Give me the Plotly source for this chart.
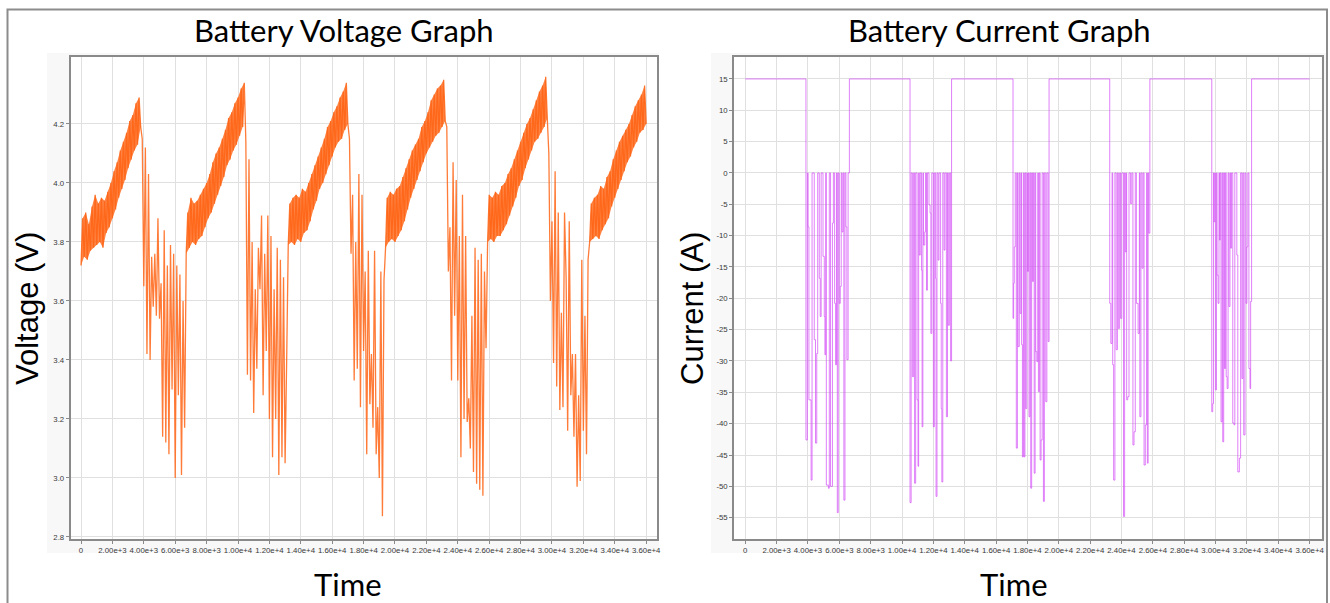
import plotly.graph_objects as go

# ---------------- Voltage data (one reading every SAMPLE_STEP seconds) ----------------
SAMPLE_STEP = 100

voltage_charge_1 = [3.72, 3.88, 3.75, 3.90, 3.74, 3.86, 3.77, 3.92, 3.78, 3.96, 3.79, 3.93, 3.80,
                    3.95, 3.78, 3.94, 3.83, 3.97, 3.85, 4.00, 3.88, 4.04, 3.91, 4.07, 3.95, 4.11,
                    3.98, 4.14, 4.01, 4.17, 4.05, 4.21, 4.08, 4.23, 4.11, 4.27, 4.13, 4.29, 4.19]
voltage_discharge_1 = [4.15, 3.65, 4.12, 3.42, 4.03, 3.40, 3.75, 3.58, 3.76, 3.55, 3.88, 3.54, 3.66,
                       3.14, 3.84, 3.12, 3.72, 3.08, 3.79, 3.30, 3.76, 3.00, 3.72, 3.28, 3.69, 3.01,
                       3.60, 3.17]
voltage_charge_2 = [3.76, 3.90, 3.78, 3.95, 3.80, 3.93, 3.79, 3.94, 3.81, 3.96, 3.82, 3.98, 3.85,
                    4.00, 3.88, 4.03, 3.90, 4.07, 3.93, 4.10, 3.96, 4.12, 3.99, 4.15, 4.02, 4.18,
                    4.06, 4.22, 4.08, 4.24, 4.11, 4.27, 4.13, 4.29, 4.16, 4.32, 4.19, 4.34]
voltage_discharge_2 = [4.14, 3.35, 4.08, 3.33, 3.80, 3.22, 3.64, 3.37, 3.78, 3.64, 3.89, 3.28, 3.76,
                       3.43, 3.89, 3.20, 3.82, 3.07, 3.64, 3.20, 3.78, 3.01, 3.74, 3.07, 3.68, 3.05,
                       3.40]
voltage_charge_3 = [3.79, 3.93, 3.80, 3.95, 3.79, 3.96, 3.81, 3.95, 3.80, 3.98, 3.83, 3.97, 3.84,
                    4.00, 3.87, 4.03, 3.91, 4.06, 3.94, 4.09, 3.98, 4.12, 4.00, 4.15, 4.03, 4.19,
                    4.06, 4.21, 4.09, 4.24, 4.12, 4.26, 4.14, 4.29, 4.15, 4.31, 4.18, 4.34, 4.20]
voltage_discharge_3 = [4.15, 3.76, 3.96, 3.33, 3.80, 3.37, 4.03, 3.24, 3.96, 3.43, 3.70, 3.08, 3.77,
                       3.25, 3.42, 3.17, 3.77, 3.08, 3.24, 3.00, 3.70, 2.87, 3.67]
voltage_charge_4 = [3.78, 3.95, 3.80, 3.97, 3.81, 3.96, 3.80, 3.98, 3.82, 3.99, 3.84, 4.02, 3.87,
                    4.05, 3.91, 4.08, 3.95, 4.11, 3.98, 4.13, 4.01, 4.15, 4.04, 4.19, 4.07, 4.21,
                    4.10, 4.24, 4.12, 4.28, 4.14, 4.30, 4.16, 4.32, 4.17, 4.33, 4.19, 4.35, 4.21]
voltage_discharge_4 = [4.19, 3.70, 3.85, 3.33, 4.07, 3.55, 4.01, 3.33, 3.82, 3.07, 3.96, 3.20, 3.82,
                       3.19, 3.27, 3.10, 3.55, 3.02, 3.78, 2.98, 3.74, 2.96, 3.76, 2.94, 3.70, 3.44]
voltage_charge_5 = [3.80, 3.96, 3.81, 3.95, 3.80, 3.97, 3.82, 3.96, 3.82, 3.99, 3.84, 4.00, 3.86,
                    4.03, 3.89, 4.05, 3.92, 4.08, 3.95, 4.11, 3.99, 4.14, 4.01, 4.17, 4.05, 4.20,
                    4.08, 4.22, 4.11, 4.25, 4.14, 4.28, 4.15, 4.31, 4.17, 4.33, 4.19, 4.36, 4.22]
voltage_discharge_5 = [4.10, 3.60, 3.87, 3.39, 4.04, 3.31, 3.90, 3.23, 3.56, 3.24, 3.90, 3.68, 3.16,
                       3.87, 3.28, 3.42, 3.14, 3.42, 2.97, 3.28, 2.99, 3.74, 3.16, 3.55, 3.08, 3.74]
voltage_charge_6 = [3.80, 3.93, 3.81, 3.95, 3.82, 3.96, 3.81, 3.99, 3.84, 3.98, 3.86, 4.02, 3.88,
                    4.04, 3.92, 4.08, 3.95, 4.11, 3.98, 4.14, 4.01, 4.16, 4.04, 4.18, 4.07, 4.20,
                    4.09, 4.23, 4.12, 4.26, 4.14, 4.28, 4.17, 4.30, 4.18, 4.33, 4.20]

voltage_segment_starts = [0, 3900, 6700, 10500, 13200, 17100, 19400, 23300, 25900, 29800, 32400]
voltage_segments = [voltage_charge_1, voltage_discharge_1, voltage_charge_2, voltage_discharge_2,
                    voltage_charge_3, voltage_discharge_3, voltage_charge_4, voltage_discharge_4,
                    voltage_charge_5, voltage_discharge_5, voltage_charge_6]
voltage_segment_is_charge = [True, False, True, False, True, False, True, False, True, False, True]

# ---------------- Current data (change points, step-wise) ----------------
current_start_time = [0]
current_start_value = [15]
d1_time = [3870, 3960, 4010, 4060, 4200, 4260, 4400, 4480, 4560, 4620, 4720, 4780, 4840, 4960,
           5040, 5080, 5130, 5170, 5300, 5360, 5440, 5560, 5620, 5700, 5760, 5820, 5870, 5930,
           5990, 6060, 6120, 6170, 6240, 6290, 6360, 6420, 6480, 6560, 6640]
d1_value = [-42.6, 0, -8.6, -36.2, -49.0, 0, -26.6, -43.1, -28.8, 0, -16.8, -22.9, 0, -13.3,
            -22.9, -29.0, 0, -49.8, -50.3, 0, -50.0, -8.0, 0, -20.8, -30.6, 0, -54.2, 0,
            -20.8, -18.1, 0, -9.4, 0, -52.2, 0, -8.6, -29.8, 0, 15]
d2_time = [10510, 10580, 10660, 10740, 10800, 10870, 10960, 11020, 11060, 11100, 11160, 11240,
           11280, 11330, 11370, 11450, 11500, 11560, 11620, 11720, 11790, 11840, 11900, 12000,
           12060, 12140, 12170, 12230, 12300, 12360, 12460, 12500, 12540, 12600, 12680, 12740,
           12830, 12900, 12950, 13020, 13100, 13160]
d2_value = [-52.6, 0, -32.5, 0, -49.5, 0, -36.2, -46.8, 0, -13.1, 0, -15.5, -40.5, 0, -11.5,
            -9.4, 0, -18.7, 0, -5.1, -6.4, -25.6, 0, -40.5, 0, -16.8, -51.6, 0, -13.9, 0,
            -20.8, -37.6, -49.3, 0, -12.3, 0, -38.9, 0, -24.3, 0, -30.0, 15]
d3_time = [17080, 17120, 17160, 17220, 17290, 17360, 17400, 17480, 17530, 17600, 17630, 17680,
           17740, 17790, 17840, 17890, 17960, 18000, 18060, 18100, 18160, 18210, 18270, 18320,
           18380, 18430, 18490, 18530, 18600, 18660, 18700, 18760, 18810, 18870, 18940, 19020,
           19080, 19170, 19240, 19320, 19380]
d3_value = [-23.2, -17.6, -11.8, 0, -43.9, 0, -27.7, 0, -22.4, 0, -27.4, -45.3, 0, -45.3, 0,
            -37.6, 0, -15.7, 0, -38.9, 0, -50.3, 0, -17.3, 0, -47.9, 0, -28.5, -30.1, 0, -34.9,
            0, -45.8, -42.6, 0, -52.4, 0, -36.5, 0, -26.9, 15]
d4_time = [23250, 23320, 23400, 23440, 23500, 23580, 23660, 23740, 23800, 23880, 23940, 24020,
           24130, 24200, 24240, 24300, 24330, 24400, 24480, 24580, 24660, 24730, 24800, 24880,
           24950, 25060, 25140, 25170, 25240, 25310, 25380, 25440, 25520, 25600, 25650, 25700,
           25740, 25810]
d4_value = [-20.8, -27.2, 0, -30.6, -49.0, 0, -28.2, 0, -24.8, 0, -23.2, 0, -54.8, 0, -12.6, 0,
            -36.2, -35.7, 0, -4.9, 0, -43.4, -41.3, 0, -20.8, -25.6, 0, -38.9, 0, -15.2, 0,
            -46.6, -40.2, 0, -46.3, 0, -9.6, 15]
d5_time = [29760, 29820, 29870, 29900, 29950, 29990, 30060, 30100, 30160, 30220, 30250, 30300,
           30350, 30420, 30460, 30520, 30570, 30630, 30680, 30740, 30800, 30850, 30920, 30960,
           31020, 31100, 31180, 31230, 31360, 31420, 31520, 31600, 31680, 31740, 31800, 31880,
           31940, 32000, 32060, 32130, 32200, 32240, 32300]
d5_value = [-38.1, -36.8, 0, -7.8, 0, -34.6, 0, -16.3, -20.8, 0, -10.7, 0, -39.7, 0, -42.9, 0,
            -31.2, 0, -32.5, -34.4, 0, -21.3, 0, -12.0, 0, -39.9, -40.2, 0, -13.1, -47.7, -45.5,
            0, -32.8, 0, -41.8, 0, -20.8, -11.8, 0, -31.2, -34.4, -20.5, 15]
current_end_time = [36010]
current_end_value = [15]

# ---------------- Axis ticks ----------------
time_tick_values = [0, 2000, 4000, 6000, 8000, 10000, 12000, 14000, 16000, 18000, 20000, 22000,
                    24000, 26000, 28000, 30000, 32000, 34000, 36000]
time_tick_labels = ["0", "2.00e+3", "4.00e+3", "6.00e+3", "8.00e+3", "1.00e+4", "1.20e+4",
                    "1.40e+4", "1.60e+4", "1.80e+4", "2.00e+4", "2.20e+4", "2.40e+4", "2.60e+4",
                    "2.80e+4", "3.00e+4", "3.20e+4", "3.40e+4", "3.60e+4"]
voltage_tick_values = [2.8, 3.0, 3.2, 3.4, 3.6, 3.8, 4.0, 4.2]
voltage_tick_labels = ["2.8", "3.0", "3.2", "3.4", "3.6", "3.8", "4.0", "4.2"]
current_tick_values = [-55, -50, -45, -40, -35, -30, -25, -20, -15, -10, -5, 0, 5, 10, 15]
current_tick_labels = ["-55", "-50", "-45", "-40", "-35", "-30", "-25", "-20", "-15", "-10",
                       "-5", "0", "5", "10", "15"]

# ---------------- Build series ----------------
voltage_time, voltage = [], []
band_x, band_y = [], []   # shaded core of the noisy charging band (upper / lower readings)
for start, seg, is_charge in zip(voltage_segment_starts, voltage_segments, voltage_segment_is_charge):
    seg_t = [start + i * SAMPLE_STEP for i in range(len(seg))]
    voltage_time += seg_t
    voltage += seg
    if is_charge:
        upper = [(t, v) for i, (t, v) in enumerate(zip(seg_t, seg)) if i % 2 == 1]
        lower = [(t, v) for i, (t, v) in enumerate(zip(seg_t, seg)) if i % 2 == 0]
        poly = upper + lower[::-1]
        band_x += [p[0] for p in poly] + [poly[0][0], None]
        band_y += [p[1] for p in poly] + [poly[0][1], None]

current_time = current_start_time + d1_time + d2_time + d3_time + d4_time + d5_time + current_end_time
current = current_start_value + d1_value + d2_value + d3_value + d4_value + d5_value + current_end_value

W, H = 1330, 603
def px(x):
    return x / W
def py(y):
    return 1 - y / H

fig = go.Figure()
fig.add_trace(go.Scatter(x=band_x, y=band_y, mode="lines", fill="toself",
                         fillcolor="rgba(255,100,20,0.80)", line=dict(width=0),
                         xaxis="x", yaxis="y", showlegend=False, hoverinfo="skip"))
fig.add_trace(go.Scatter(x=voltage_time, y=voltage, mode="lines",
                         line=dict(color="rgba(255,100,20,0.85)", width=1.3, simplify=False),
                         xaxis="x", yaxis="y", showlegend=False, hoverinfo="skip"))
fig.add_trace(go.Scatter(x=current_time, y=current, mode="lines",
                         line=dict(color="rgba(212,80,246,0.72)", width=1.0, shape="hv", simplify=False),
                         xaxis="x2", yaxis="y2", showlegend=False, hoverinfo="skip"))

tick_font = dict(family="Liberation Sans, Arial, sans-serif", size=7.8, color="#3a3a3a")
axis_common = dict(showline=True, mirror=True, linecolor="#8a8a8a", linewidth=1.5,
                   showgrid=True, gridcolor="#e0e0e0", gridwidth=1, zeroline=False,
                   ticks="outside", ticklen=3, tickcolor="#8a8a8a", tickwidth=1,
                   tickfont=tick_font, tickmode="array", automargin=False, fixedrange=True)

y_dom = [py(539), py(57)]
xdom_v = [px(70.5), px(657)]
xdom_c = [px(734), px(1321.5)]
fig.update_layout(
    width=W, height=H,
    margin=dict(l=0, r=0, t=0, b=0),
    paper_bgcolor="white", plot_bgcolor="white",
    xaxis=dict(domain=xdom_v, range=[-670, 36690], anchor="y",
               tickvals=time_tick_values, ticktext=time_tick_labels, tickangle=0, **axis_common),
    yaxis=dict(domain=y_dom, range=[2.793, 4.427], anchor="x",
               tickvals=voltage_tick_values, ticktext=voltage_tick_labels, **axis_common),
    xaxis2=dict(domain=xdom_c, range=[-720, 36760], anchor="y2",
                tickvals=time_tick_values, ticktext=time_tick_labels, tickangle=0, **axis_common),
    yaxis2=dict(domain=y_dom, range=[-58.4, 18.5], anchor="x2",
                tickvals=current_tick_values, ticktext=current_tick_labels, **axis_common),
    shapes=[
        dict(type="rect", xref="paper", yref="paper", x0=px(47), x1=px(659), y0=py(553), y1=py(53),
             fillcolor="#f8f8f8", line=dict(width=0), layer="below"),
        dict(type="rect", xref="paper", yref="paper", x0=px(711), x1=px(1326), y0=py(553), y1=py(53),
             fillcolor="#f8f8f8", line=dict(width=0), layer="below"),
        dict(type="rect", xref="paper", yref="paper", x0=xdom_v[0], x1=xdom_v[1], y0=y_dom[0], y1=y_dom[1],
             fillcolor="white", line=dict(width=0), layer="below"),
        dict(type="rect", xref="paper", yref="paper", x0=xdom_c[0], x1=xdom_c[1], y0=y_dom[0], y1=y_dom[1],
             fillcolor="white", line=dict(width=0), layer="below"),
        dict(type="rect", xref="paper", yref="paper", x0=px(7.5), x1=px(1327), y0=-0.05, y1=py(9.5),
             fillcolor="rgba(0,0,0,0)", line=dict(color="#8c8c8c", width=2), layer="above"),
    ],
)

title_font = dict(family="Lato, Open Sans, sans-serif", size=31, color="black")
axis_title_font = dict(family="Liberation Sans, Arial, sans-serif", size=31, color="black")
annotations = [
    dict(text="Battery Voltage Graph", x=px(344), y=py(30), font=title_font),
    dict(text="Battery Current Graph", x=px(999), y=py(30), font=title_font),
    dict(text="Time", x=px(348), y=py(584), font=title_font),
    dict(text="Time", x=px(1014), y=py(584), font=title_font),
    dict(text="Voltage (V)", x=px(27), y=py(309), font=axis_title_font, textangle=-90),
    dict(text="Current (A)", x=px(692), y=py(309), font=axis_title_font, textangle=-90),
]
for a in annotations:
    a.update(xref="paper", yref="paper", showarrow=False, xanchor="center", yanchor="middle")
fig.update_layout(annotations=annotations)

fig.write_html("out.html", config={"displayModeBar": False},
               post_script="document.body.style.margin='0px';")
